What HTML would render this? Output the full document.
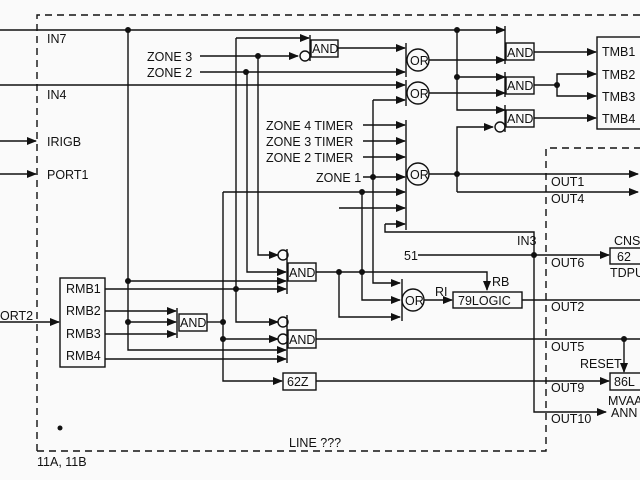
<!DOCTYPE html>
<html><head><style>
html,body{margin:0;padding:0;background:#fafafa;}
svg{display:block}
text{font-family:"Liberation Sans",sans-serif;font-size:12.5px;fill:#111;}
</style></head><body>
<svg width="640" height="480" viewBox="0 0 640 480" xmlns="http://www.w3.org/2000/svg">
<defs>
<marker id="a" markerWidth="10" markerHeight="8" refX="9" refY="4" orient="auto" markerUnits="userSpaceOnUse">
<path d="M0,0 L10,4 L0,8 z" fill="#111"/></marker>
</defs>
<rect width="640" height="480" fill="#fafafa"/>
<g stroke="#111" stroke-width="1.4" fill="none">
<path d="M37,451 V15 H640" stroke-dasharray="7,5"/>
<path d="M37,451 H546 V148 H640" stroke-dasharray="7,5"/>
<path d="M0,30 H505" marker-end="url(#a)"/>
<path d="M0,85 H405" marker-end="url(#a)"/>
<path d="M0,141 H36" marker-end="url(#a)"/>
<path d="M0,174 H36" marker-end="url(#a)"/>
<path d="M128,30 V350 H286" marker-end="url(#a)"/>
<path d="M200,56 H298" marker-end="url(#a)"/>
<path d="M200,72 H405" marker-end="url(#a)"/>
<path d="M236,38 H309" marker-end="url(#a)"/>
<path d="M236,38 V322 H278" marker-end="url(#a)"/>
<path d="M258,56 V255 H278" marker-end="url(#a)"/>
<path d="M247,72 V272 H286" marker-end="url(#a)"/>
<path d="M310,35 V61"/>
<circle cx="305" cy="56" r="5"/>
<rect x="311" y="40" width="27" height="17"/>
<path d="M338,48 H405" marker-end="url(#a)"/>
<path d="M406,43 V77"/><circle cx="418" cy="60" r="11"/>
<path d="M406,80 V106"/><circle cx="418" cy="93" r="11"/>
<path d="M373,100 H405" marker-end="url(#a)"/>
<path d="M373,100 V283 H400" marker-end="url(#a)"/>
<path d="M406,120 V230"/><circle cx="418" cy="174" r="11"/>
<path d="M363,125 H405" marker-end="url(#a)"/>
<path d="M363,141 H405" marker-end="url(#a)"/>
<path d="M363,157 H405" marker-end="url(#a)"/>
<path d="M363,177 H405" marker-end="url(#a)"/>
<path d="M223,192 H405" marker-end="url(#a)"/>
<path d="M339,208 H405" marker-end="url(#a)"/>
<path d="M385,224 H405" marker-end="url(#a)"/>
<path d="M385,224 V232 H534 V412 H606" marker-end="url(#a)"/>
<path d="M429,60 H505" marker-end="url(#a)"/>
<path d="M429,93 H505" marker-end="url(#a)"/>
<path d="M429,174 H638" marker-end="url(#a)"/>
<path d="M457,30 V110 H505" marker-end="url(#a)"/>
<path d="M457,77 H505" marker-end="url(#a)"/>
<path d="M457,192 V127 H493" marker-end="url(#a)"/>
<path d="M457,192 H638" marker-end="url(#a)"/>
<path d="M505,26 V64"/><rect x="506" y="43" width="28" height="17"/>
<path d="M505,72 V97"/><rect x="506" y="77" width="28" height="17"/>
<path d="M505,105 V132"/><rect x="506" y="110" width="28" height="17"/>
<circle cx="500" cy="127" r="5"/>
<path d="M534,52 H596" marker-end="url(#a)"/>
<path d="M534,85 H557 V74 H596" marker-end="url(#a)"/>
<path d="M557,85 V96 H596" marker-end="url(#a)"/>
<path d="M534,118 H596" marker-end="url(#a)"/>
<rect x="597" y="37" width="50" height="92"/>
<path d="M287,249 V294"/><circle cx="283" cy="255" r="5"/>
<rect x="288" y="263" width="28" height="18"/>
<path d="M128,281 H286" marker-end="url(#a)"/>
<path d="M105,289 H286" marker-end="url(#a)"/>
<path d="M316,272 H487 V290" marker-end="url(#a)"/>
<path d="M339,272 V317 H400" marker-end="url(#a)"/>
<path d="M362,192 V300 H400" marker-end="url(#a)"/>
<path d="M402,279 V321"/><circle cx="413" cy="300" r="11"/>
<path d="M424,300 H452" marker-end="url(#a)"/>
<rect x="453" y="292" width="69" height="16"/>
<path d="M522,300 H640"/>
<path d="M418,255 H609" marker-end="url(#a)"/>
<rect x="610" y="248" width="34" height="16"/>
<path d="M0,322 H59" marker-end="url(#a)"/>
<rect x="60" y="278" width="45" height="89"/>
<path d="M105,311 H176" marker-end="url(#a)"/>
<path d="M128,322 H176" marker-end="url(#a)"/>
<path d="M105,334 H176" marker-end="url(#a)"/>
<path d="M177,308 V338"/><rect x="179" y="314" width="28" height="17"/>
<path d="M207,322 H223"/>
<path d="M223,192 V381 H282" marker-end="url(#a)"/>
<path d="M223,339 H278" marker-end="url(#a)"/>
<path d="M105,359 H286" marker-end="url(#a)"/>
<path d="M287,315 V363"/><circle cx="283" cy="322" r="5"/><circle cx="283" cy="339" r="5"/>
<rect x="288" y="330" width="28" height="18"/>
<path d="M316,339 H640"/>
<path d="M624,339 V372" marker-end="url(#a)"/>
<rect x="283" y="373" width="33" height="17"/>
<path d="M316,381 H609" marker-end="url(#a)"/>
<rect x="610" y="373" width="34" height="17"/>
</g>
<g fill="#111">
<circle cx="128" cy="30" r="3"/><circle cx="457" cy="30" r="3"/><circle cx="457" cy="77" r="3"/>
<circle cx="258" cy="56" r="3"/><circle cx="246" cy="72" r="3"/><circle cx="373" cy="177" r="3"/>
<circle cx="457" cy="174" r="3"/><circle cx="557" cy="85" r="3"/><circle cx="362" cy="192" r="3"/>
<circle cx="339" cy="272" r="3"/><circle cx="362" cy="272" r="3"/><circle cx="534" cy="255" r="3"/>
<circle cx="128" cy="281" r="3"/><circle cx="128" cy="322" r="3"/><circle cx="236" cy="289" r="3"/>
<circle cx="223" cy="322" r="3"/><circle cx="223" cy="339" r="3"/><circle cx="624" cy="339" r="3"/>
<circle cx="60" cy="428" r="2.5"/>
</g>
<g>
<text x="47" y="43">IN7</text><text x="47" y="99">IN4</text>
<text x="47" y="146">IRIGB</text><text x="47" y="179">PORT1</text>
<text x="147" y="61">ZONE 3</text><text x="147" y="77">ZONE 2</text>
<text x="266" y="130">ZONE 4 TIMER</text><text x="266" y="146">ZONE 3 TIMER</text>
<text x="266" y="162">ZONE 2 TIMER</text><text x="316" y="182">ZONE 1</text>
<text x="312" y="53">AND</text>
<text x="410" y="65">OR</text><text x="410" y="98">OR</text><text x="410" y="179">OR</text><text x="405" y="305">OR</text>
<text x="507" y="57">AND</text><text x="507" y="90">AND</text><text x="507" y="123">AND</text>
<text x="602" y="56">TMB1</text><text x="602" y="79">TMB2</text><text x="602" y="101">TMB3</text><text x="602" y="123">TMB4</text>
<text x="551" y="186">OUT1</text><text x="551" y="203">OUT4</text>
<text x="517" y="245">IN3</text><text x="551" y="267">OUT6</text><text x="551" y="311">OUT2</text>
<text x="551" y="351">OUT5</text><text x="551" y="392">OUT9</text><text x="551" y="423">OUT10</text>
<text x="404" y="260">51</text>
<text x="614" y="245">CNS</text><text x="617" y="261">62</text><text x="610" y="277">TDPU</text>
<text x="435" y="296">RI</text><text x="492" y="286">RB</text>
<text x="458" y="305">79LOGIC</text>
<text x="289" y="277">AND</text><text x="289" y="344">AND</text><text x="180" y="327">AND</text>
<text x="287" y="386">62Z</text><text x="614" y="386">86L</text>
<text x="580" y="368">RESET</text><text x="608" y="405">MVAA</text><text x="611" y="417">ANN</text>
<text x="0" y="320">ORT2</text>
<text x="66" y="293">RMB1</text><text x="66" y="315">RMB2</text><text x="66" y="338">RMB3</text><text x="66" y="360">RMB4</text>
<text x="289" y="447">LINE ???</text><text x="37" y="466">11A, 11B</text>
</g>
</svg>
</body></html>
